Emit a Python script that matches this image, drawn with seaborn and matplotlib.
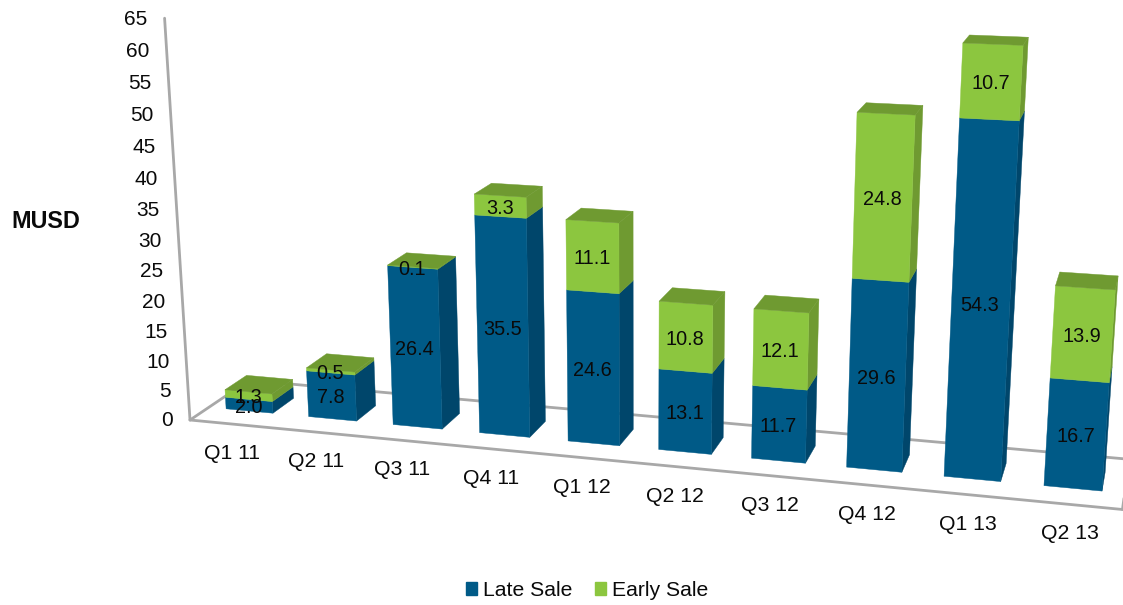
import matplotlib
matplotlib.use("Agg")
import matplotlib.pyplot as plt
from matplotlib.patches import Polygon, Patch
import seaborn as sns

quarters = ["Q1 11", "Q2 11", "Q3 11", "Q4 11", "Q1 12",
            "Q2 12", "Q3 12", "Q4 12", "Q1 13", "Q2 13"]
late_sale = [2.0, 7.8, 26.4, 35.5, 24.6, 13.1, 11.7, 29.6, 54.3, 16.7]
early_sale = [1.3, 0.5, 0.1, 3.3, 11.1, 10.8, 12.1, 24.8, 10.7, 13.9]
value_ticks = list(range(0, 70, 5))

sns.set_theme(style="white")
plt.rcParams["font.family"] = ["Liberation Sans", "DejaVu Sans"]

late_front, late_side = sns.color_palette(["#005A87", "#00466B"])
early_front, early_side = sns.color_palette(["#8CC63F", "#6F9A31"])
floor_grey = "#A8A8A8"
ink = "#0A0A0A"

# Perspective camera: origin and vanishing points of the three chart directions.
ORIGIN = (190.0, 420.0)
VP_CAT = (-7000.0, -270.0)
VP_VAL = (639.0, 7520.0)
VP_DEPTH = (1230.0, -280.0)
K_CAT, K_VAL, K_DEPTH = -0.01148, -0.000824, 0.0601


def project(cat, val, depth=0.0):
    """Map category position, value and depth to canvas coordinates."""
    a, b, c = K_CAT * cat, K_VAL * val, K_DEPTH * depth
    w = 1 + a + b + c
    x = ORIGIN[0] + a * VP_CAT[0] + b * VP_VAL[0] + c * VP_DEPTH[0]
    y = ORIGIN[1] + a * VP_CAT[1] + b * VP_VAL[1] + c * VP_DEPTH[1]
    return x / w, y / w


fig = plt.figure(figsize=(11.23, 6.05), dpi=100)
ax = fig.add_axes([0, 0, 1, 1])
ax.set_xlim(0, 1123)
ax.set_ylim(605, 0)
ax.axis("off")

# Floor outline and the slanted value axis.
n_cat = len(quarters)
for start, end in [((0, 0, 0), (n_cat, 0, 0)), ((0, 0, 0), (0, 0, 1)),
                   ((0, 0, 1), (n_cat, 0, 1)), ((n_cat, 0, 0), (n_cat, 0, 1)),
                   ((0, 0, 0), (0, 65, 0))]:
    p, q = project(*start), project(*end)
    ax.plot([p[0], q[0]], [p[1], q[1]], color=floor_grey, lw=2.0, zorder=1,
            solid_capstyle="round")

for tick in value_ticks:
    x, y = project(0, tick)
    ax.text(x - 17, y + 1, str(tick), ha="right", va="center", fontsize=15,
            color=ink)

BAR_L, BAR_R = 0.21, 0.78
DEPTH_F, DEPTH_B = 0.31, 0.68


def draw_block(i, low, high, front, side, top=None):
    l, r = i + BAR_L, i + BAR_R
    faces = [([(r, low, DEPTH_F), (r, low, DEPTH_B), (r, high, DEPTH_B), (r, high, DEPTH_F)], side),
             ([(l, low, DEPTH_F), (r, low, DEPTH_F), (r, high, DEPTH_F), (l, high, DEPTH_F)], front)]
    if top is not None:
        faces.append(([(l, high, DEPTH_F), (r, high, DEPTH_F), (r, high, DEPTH_B), (l, high, DEPTH_B)], top))
    for corners, colour in faces:
        ax.add_patch(Polygon([project(*c) for c in corners], closed=True,
                             facecolor=colour, edgecolor=colour, lw=0.3, zorder=2 + i * 0.01))


for i, (late, early) in enumerate(zip(late_sale, early_sale)):
    total = late + early
    draw_block(i, 0, late, late_front, late_side)
    draw_block(i, late, total, early_front, early_side, top=early_side)
    mid = i + (BAR_L + BAR_R) / 2
    for value, centre in [(late, late / 2), (early, late + early / 2)]:
        x, y = project(mid, centre, DEPTH_F)
        ax.text(x - 0.5, y + 2, f"{value:.1f}", ha="center", va="center", fontsize=14.3,
                color=ink, zorder=5)
    x, y = project(i + 0.5, 0)
    ax.text(x, y + 29.5, quarters[i], ha="center", va="center", fontsize=15.3,
            color=ink)

ax.text(45.5, 221.5, "MUSD", ha="center", va="center", fontsize=16.8,
        fontweight="bold", color=ink)

ax.legend(handles=[Patch(color=late_front, label="Late Sale"),
                   Patch(color=early_front, label="Early Sale")],
          loc="center", bbox_to_anchor=(587, 590.5), bbox_transform=ax.transData,
          ncols=2, frameon=False, fontsize=15.2, handlelength=0.52, handleheight=0.52,
          handletextpad=0.3, columnspacing=1.05, labelcolor=ink)

fig.savefig("out.png", dpi=100)
